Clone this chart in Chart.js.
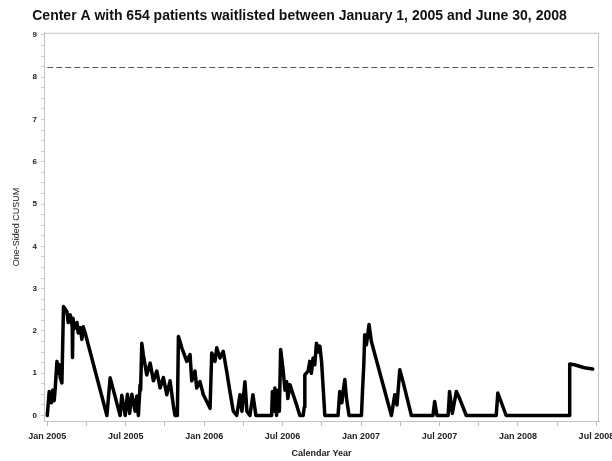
<!DOCTYPE html>
<html>
<head>
<meta charset="utf-8">
<script src="https://cdn.jsdelivr.net/npm/chart.js@4"></script>
<style>
  html, body { margin: 0; padding: 0; background: #fff; }
  #wrap { width: 612px; height: 461px; }
</style>
</head>
<body>
<div id="wrap"><canvas id="cusumChart" width="612" height="461"></canvas></div>
<script>
// months since Jan 2005 / one-sided CUSUM value
const months = [
  0, 0.15, 0.31, 0.42, 0.53, 0.61, 0.74, 0.84, 0.92, 0.99, 1.12, 1.24, 1.50, 1.60, 1.76, 1.91, 1.93, 1.97,
  2.06, 2.27, 2.37, 2.52, 2.65, 2.75, 2.90, 4.56, 4.81, 5.57, 5.70, 5.96, 6.13, 6.30, 6.47, 6.72, 6.85, 6.97,
  7.10, 7.14, 7.23, 7.35, 7.61, 7.87, 8.12, 8.38, 8.63, 8.88, 9.14, 9.39, 9.64, 9.77, 9.95, 10.03, 10.29, 10.67,
  10.92, 11.05, 11.30, 11.43, 11.68, 11.94, 12.20, 12.45, 12.58, 12.83, 12.96, 13.21, 13.46, 13.72, 13.97, 14.23,
  14.49, 14.74, 14.89, 15.12, 15.27, 15.50, 15.73, 15.96, 17.16, 17.22, 17.33, 17.41, 17.54, 17.64, 17.75, 17.85,
  18.05, 18.18, 18.31, 18.40, 18.56, 18.81, 19.07, 19.32, 19.57, 19.66, 19.70, 19.95, 20.08, 20.20, 20.33, 20.46,
  20.59, 20.73, 20.85, 20.98, 21.23, 22.24, 22.37, 22.53, 22.63, 22.76, 22.89, 23.08, 24.03, 24.11, 24.21, 24.28,
  24.41, 24.61, 24.79, 26.32, 26.58, 26.75, 26.96, 27.21, 27.85, 29.50, 29.63, 29.81, 30.66, 30.77, 30.98, 31.29,
  31.54, 32.05, 34.34, 34.46, 35.10, 39.94, 39.96, 40.32, 41.08, 41.72
]
const cusum = [
  0, 0.57, 0.30, 0.60, 0.35, 0.65, 1.28, 1.00, 1.20, 0.90, 0.77, 2.58, 2.46, 2.20, 2.38, 2.10, 1.37, 2.30,
  2.05, 2.20, 1.95, 2.08, 1.80, 2.10, 1.95, 0, 0.89, 0, 0.48, 0, 0.50, 0.05, 0.50, 0.10, 0.46, 0,
  0.73, 0.60, 1.71, 1.43, 0.96, 1.24, 0.82, 1.05, 0.65, 0.90, 0.49, 0.82, 0.25, 0, 0, 1.87, 1.60, 1.28,
  1.44, 0.82, 1.05, 0.65, 0.80, 0.49, 0.33, 0.17, 1.48, 1.28, 1.60, 1.36, 1.52, 1.05, 0.57, 0.10,
  0, 0.49, 0.10, 0.80, 0.10, 0, 0.49, 0, 0, 0.57, 0.10, 0.65, 0, 0.60, 0.10, 1.56,
  1.05, 0.60, 0.80, 0.40, 0.73, 0.49, 0.25, 0, 0, 0.20, 0.96, 1.05, 1.28, 1.00, 1.36, 1.20,
  1.71, 1.50, 1.64, 1.28, 0, 0, 0.57, 0.30, 0.57, 0.85, 0.40, 0, 0, 0.57, 1.20, 1.91,
  1.67, 2.15, 1.75, 0, 0.49, 0.25, 1.08, 0.80, 0, 0, 0.33, 0, 0, 0.57, 0.05, 0.57,
  0.40, 0, 0, 0.53, 0, 0, 1.22, 1.20, 1.13, 1.10
]

// control limit (dashed line)
const limit = 8.23
const limitSpan = [0, 41.9]

// axis ticks
const xTicks = [0, 3, 6, 9, 12, 15, 18, 21, 24, 27, 30, 33, 36, 39, 42]
const xLabels = { 0: `Jan 2005`, 6: `Jul 2005`, 12: `Jan 2006`, 18: `Jul 2006`, 24: `Jan 2007`, 30: `Jul 2007`, 36: `Jan 2008`, 42: `Jul 2008` }
const yTicks = []
for (let v = 0; v <= 9; v += 0.25) yTicks.push(v)

const tickFont = { family: `"Liberation Sans", Arial, sans-serif`, size: 9, weight: `bold` }

// draw the box round the plot area
const frame = {
  id: `frame`,
  afterDraw(chart) {
    const { ctx, chartArea: a } = chart
    ctx.save()
    ctx.strokeStyle = `#c4c4c4`
    ctx.lineWidth = 1
    ctx.strokeRect(a.left + 0.5, a.top + 0.5, a.right - a.left - 1, a.bottom - a.top)
    ctx.restore()
  }
}

new Chart(document.querySelector(`#cusumChart`).getContext(`2d`), {
  type: `line`,
  data: {
    datasets: [{
        data: months.map((m, i) => ({ x: m, y: cusum[i] })),
        borderColor: `#000`,
        borderWidth: 3.5,
        borderJoinStyle: `round`,
        borderCapStyle: `round`,
        pointRadius: 0,
        tension: 0,
        fill: false
      }, {
        data: limitSpan.map(m => ({ x: m, y: limit })),
        borderColor: `#555`,
        borderWidth: 1,
        borderDash: [6, 3],
        pointRadius: 0,
        fill: false
      }
    ]
  },
  options: {
    responsive: false,
    animation: false,
    layout: { padding: { left: 0, right: 13, top: 0, bottom: 0 } },
    plugins: {
      legend: { display: false },
      tooltip: { enabled: false },
      title: {
        display: true,
        text: `Center A with 654 patients waitlisted between January 1, 2005 and June 30, 2008`,
        color: `#111`,
        font: { family: `"Liberation Sans", Arial, sans-serif`, size: 14, weight: `bold` },
        padding: { top: 8, bottom: 8 }
      }
    },
    scales: {
      x: {
        type: `linear`,
        min: -0.25,
        max: 42.2,
        afterBuildTicks: s => { s.ticks = xTicks.map(v => ({ value: v })) },
        afterFit: s => { s.height = 40; s.paddingLeft = 0; s.paddingRight = 0 },
        ticks: {
          autoSkip: false,
          maxRotation: 0,
          padding: 5,
          color: `#222`,
          font: tickFont,
          callback: v => xLabels[v] || ``
        },
        grid: { drawOnChartArea: false, drawTicks: true, tickLength: 5, color: `#bbb` },
        border: { display: true, color: `#bbb` },
        title: { display: true, text: `Calendar Year`, color: `#222`, font: tickFont, padding: { top: 0, bottom: 2 } }
      },
      y: {
        type: `linear`,
        min: -0.13,
        max: 9.05,
        afterBuildTicks: s => { s.ticks = yTicks.map(v => ({ value: v })) },
        afterFit: s => { s.width = 44; s.paddingTop = 0; s.paddingBottom = 0 },
        ticks: {
          autoSkip: false,
          padding: 4,
          color: `#222`,
          font: { family: `"Liberation Sans", Arial, sans-serif`, size: 8, weight: `bold` },
          callback: v => Number.isInteger(v) ? v : ``
        },
        grid: { drawOnChartArea: false, drawTicks: true, tickLength: 3, color: `#ccc` },
        border: { display: true, color: `#bbb` },
        title: {
          display: true,
          text: `One-Sided CUSUM`,
          color: `#222`,
          font: { family: `"Liberation Sans", Arial, sans-serif`, size: 9 },
          padding: { top: 11, bottom: 0 }
        }
      }
    }
  },
  plugins: [frame]
})
</script>
</body>
</html>
